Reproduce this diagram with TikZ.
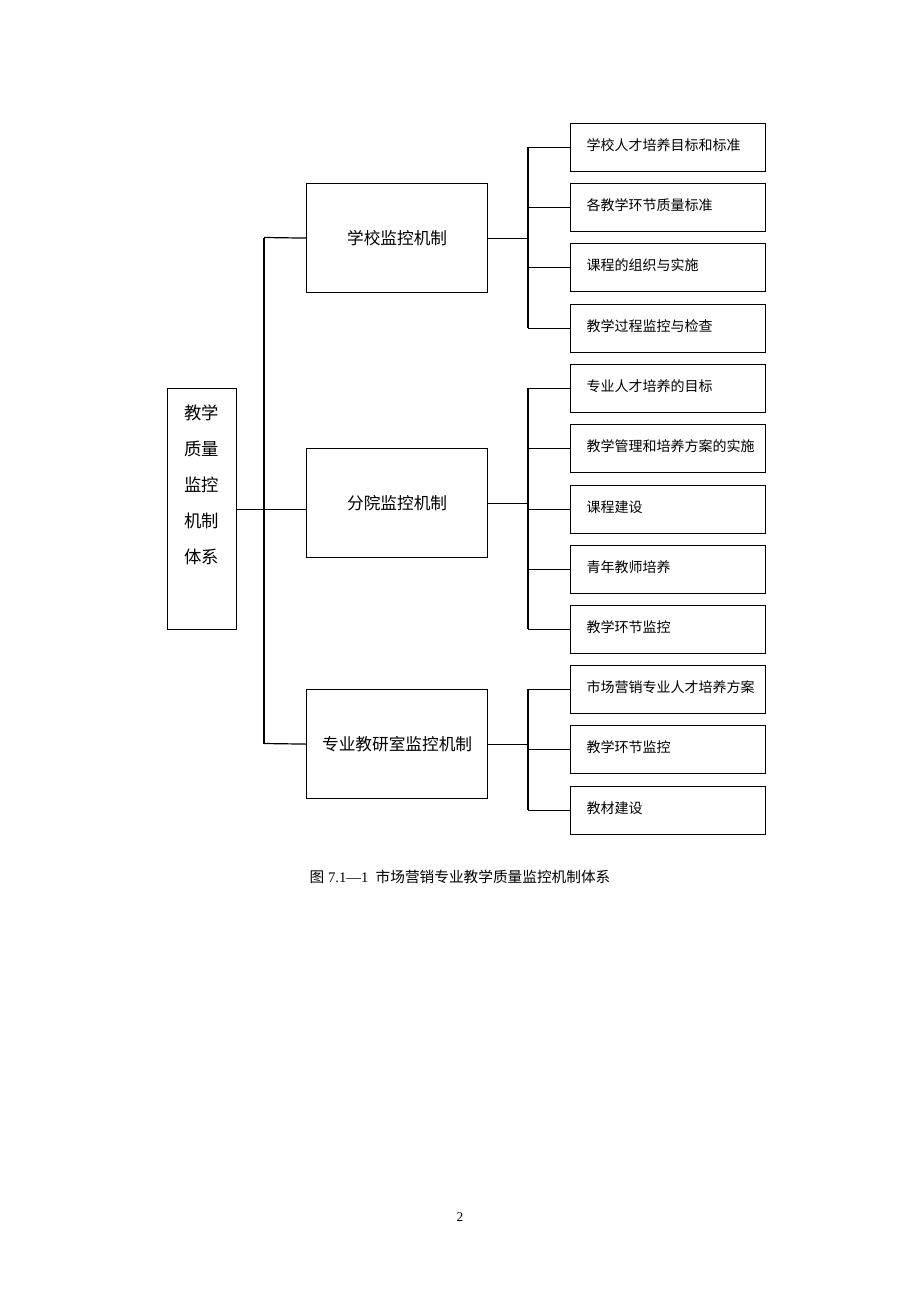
\documentclass[tikz,border=0pt]{standalone}
\usepackage{fontspec}
\setmainfont{Liberation Serif}
\newfontfamily\cjk{Noto Sans CJK SC}
\begin{document}
\begin{tikzpicture}[x=0.75pt,y=-0.75pt,
  box/.style={draw,line width=0.9pt,inner sep=0pt,anchor=north west},
  leaf/.style={box,minimum width=195*0.75pt,minimum height=48*0.75pt},
  mid/.style={box,minimum width=181*0.75pt,minimum height=109*0.75pt,font=\cjk\fontsize{12.5}{14}\selectfont},
  ln/.style={line width=0.9pt},
  lt/.style={font=\cjk\fontsize{10.5}{13}\selectfont,anchor=west}]
\useasboundingbox (0,0) rectangle (920,1302);
\node[box,minimum width=69*0.75pt,minimum height=241*0.75pt] (root) at (167,388) {};
\node[font=\cjk\fontsize{13}{27}\selectfont,align=center] at (201.5,485) {教学\\质量\\监控\\机制\\体系};
\node[mid] (m1) at (306,183) {学校监控机制};
\node[mid] (m2) at (306,448) {分院监控机制};
\node[mid] (m3) at (306,689) {专业教研室监控机制};
\coordinate (t1) at (264,237.5); \coordinate (t3) at (264,743.5);
\draw[ln] (t1) -- (t3);
\draw[ln] (root.east) -- (m2.west |- root.east);
\draw[ln] (t1) -- (m1.west); \draw[ln] (t3) -- (m3.west);
\foreach \i/\y/\t in {1/123/学校人才培养目标和标准,2/183/各教学环节质量标准,3/243/课程的组织与实施,4/304/教学过程监控与检查,5/364/专业人才培养的目标,6/424/教学管理和培养方案的实施,7/485/课程建设,8/545/青年教师培养,9/605/教学环节监控,10/665/市场营销专业人才培养方案,11/725/教学环节监控,12/786/教材建设}{
  \node[leaf] (r\i) at (570,\y) {};
  \node[lt] at ([xshift=9pt]r\i.west) [yshift=2pt] {\t};
  \draw[ln] (r\i.west) -- ++(-42,0);
}
\coordinate (b1a) at (528,147); \coordinate (b1b) at (528,328);
\coordinate (b2a) at (528,388); \coordinate (b2b) at (528,629);
\coordinate (b3a) at (528,689); \coordinate (b3b) at (528,810);
\draw[ln] (b1a) -- (b1b); \draw[ln] (b2a) -- (b2b); \draw[ln] (b3a) -- (b3b);
\draw[ln] (m1.east) -- ++(41,0); \draw[ln] (m2.east) -- ++(41,0); \draw[ln] (m3.east) -- ++(41,0);
\node[font=\fontsize{11}{13}\selectfont] (cap) at (460,877) {{\cjk 图} 7.1—1\ \ {\cjk 市场营销专业教学质量监控机制体系}};
\node[font=\fontsize{10}{12}\selectfont] (pg) at (460,1217) {2};
\end{tikzpicture}
\end{document}
